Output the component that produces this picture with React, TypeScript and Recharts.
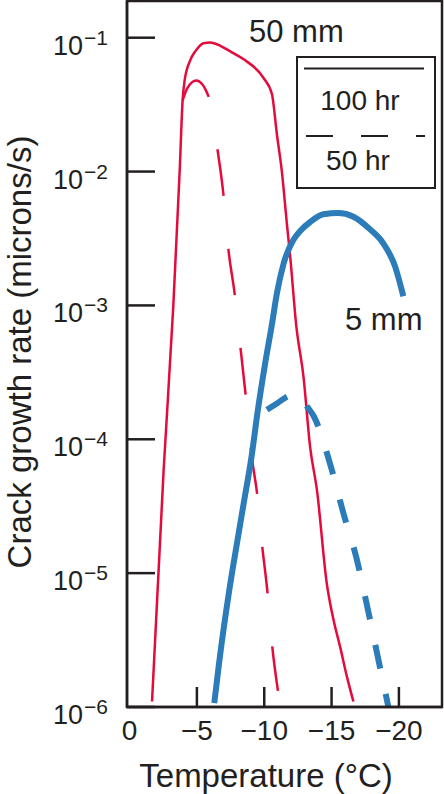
import { LineChart, Line, XAxis, YAxis, Legend } from "recharts";

const INK = "#231f20";
const RED = "#e40b3c";
const BLUE = "#2b7cb9";
const FONT = "'Liberation Sans', Arial, Helvetica, sans-serif";

// temperature (°C) / crack growth rate (microns/s)
// 50 mm, 100 hr (solid red)
const red100T = [-1.67, -2.53, -3.25, -3.72, -3.94, -4.09, -4.51, -4.88, -5.5, -5.99, -6.74, -7.48, -8.47, -9.95, -10.57, -10.94, -11.31, -11.68, -11.93, -12.37, -12.92, -13.41, -13.91, -14.65, -15.14, -15.64, -16.13, -16.62];
const red100V = [1.1e-6, 5.9e-5, 1.0e-3, 1.0e-2, 3.4e-2, 4.8e-2, 6.8e-2, 7.9e-2, 9.1e-2, 9.2e-2, 8.7e-2, 7.9e-2, 6.9e-2, 5.0e-2, 3.8e-2, 1.9e-2, 1.0e-2, 4.1e-3, 2.3e-3, 7.2e-4, 2.9e-4, 8.7e-5, 4.2e-5, 8.3e-6, 4.5e-6, 2.8e-6, 1.7e-6, 1.1e-6];
// 50 mm, 50 hr (dashed red)
const red50T = [-3.94, -4.27, -4.96, -5.87, -6.49, -6.98, -7.35, -7.8, -8.22, -8.61, -9.09, -9.46, -9.83, -10.24, -10.57, -11.02];
const red50V = [3.4e-2, 4.17e-2, 4.79e-2, 3.63e-2, 1.55e-2, 6.6e-3, 2.57e-3, 1.23e-3, 5.0e-4, 2.19e-4, 7.2e-5, 4.0e-5, 1.66e-5, 7.2e-6, 3.0e-6, 1.32e-6];
// 5 mm, 100 hr (solid blue)
const blue100T = [-6.29, -6.64, -7.4, -7.97, -8.47, -9.09, -9.5, -10.07, -10.57, -10.94, -11.43, -12.17, -12.67, -13.41, -14.4, -15.51, -16.62, -17.86, -18.85, -19.72, -20.33];
const blue100V = [1.07e-6, 2.1e-6, 7.4e-6, 1.66e-5, 3.3e-5, 7.8e-5, 1.58e-4, 3.7e-4, 7.2e-4, 1.23e-3, 2.04e-3, 3.1e-3, 3.6e-3, 4.2e-3, 4.8e-3, 4.9e-3, 4.6e-3, 3.7e-3, 2.9e-3, 1.95e-3, 1.17e-3];
// 5 mm, 50 hr (dashed blue)
const blue50T = [-10.2, -10.97, -11.73, -12.4, -13.21, -13.69, -14.9, -15.88, -16.88, -17.72, -18.46, -19.22];
const blue50V = [1.66e-4, 1.86e-4, 2.09e-4, 2.19e-4, 1.74e-4, 1.48e-4, 6.5e-5, 2.8e-5, 1.26e-5, 5.2e-6, 2.3e-6, 1.0e-6];

const xTicks = [0, -5, -10, -15, -20];
const yTicks = [1e-6, 1e-5, 1e-4, 1e-3, 1e-2, 1e-1];

const rows = (t: number[], v: number[]) => t.map((x, i) => ({ t: x, v: v[i] }));

function YTick(props: any) {
  const { x, y, payload } = props;
  const exp = Math.round(Math.log10(payload.value));
  return (
    <g>
      <line x1={x} x2={x + 28} y1={y} y2={y} stroke={INK} strokeWidth={2.5} />
      <text x={x - 74} y={y + 17} fill={INK} fontSize={27} fontFamily={FONT}>
        10
        <tspan dx={1} dy={-10} fontSize={21}>
          {"\u2212" + Math.abs(exp)}
        </tspan>
      </text>
    </g>
  );
}

function XTick(props: any) {
  const { x, y, payload } = props;
  const v = payload.value;
  return (
    <g>
      {v !== 0 && <line x1={x} x2={x} y1={y} y2={y - 20} stroke={INK} strokeWidth={2.5} />}
      <text x={x} y={y + 33} textAnchor="middle" fill={INK} fontSize={28} fontFamily={FONT}>
        {v === 0 ? "0" : "\u2212" + Math.abs(v)}
      </text>
    </g>
  );
}

function LegendBox() {
  return (
    <svg width={140} height={133} style={{ display: "block" }}>
      <rect x={1} y={1} width={138} height={131} fill="#fff" stroke={INK} strokeWidth={2} />
      <line x1={8} x2={128} y1={12.5} y2={12.5} stroke={INK} strokeWidth={2} />
      <text x={64} y={54} textAnchor="middle" fill={INK} fontSize={28} fontFamily={FONT}>
        100 hr
      </text>
      <line x1={10} x2={129} y1={80} y2={80} stroke={INK} strokeWidth={2} strokeDasharray="27 28" />
      <text x={62} y={114} textAnchor="middle" fill={INK} fontSize={28} fontFamily={FONT}>
        50 hr
      </text>
    </svg>
  );
}

export default function App() {
  return (
    <div style={{ position: "relative", width: 444, height: 794, fontFamily: FONT }}>
      <style>{`body{margin:0;background:#fff}`}</style>
      <LineChart width={444} height={794} margin={{ top: 1, right: 2, bottom: 0, left: 0 }}>
        <XAxis
          xAxisId="b"
          dataKey="t"
          type="number"
          domain={[-23.2, 0.19]}
          reversed
          allowDataOverflow
          ticks={xTicks}
          interval={0}
          height={87}
          tickSize={0}
          tickMargin={0}
          tickLine={false}
          axisLine={{ stroke: INK, strokeWidth: 2.5 }}
          tick={(p: any) => <XTick {...p} />}
          label={{
            content: () => (
              <text x={266} y={787} textAnchor="middle" fill={INK} fontSize={33} fontFamily={FONT}>
                Temperature (°C)
              </text>
            ),
          }}
        />
        <YAxis
          yAxisId="l"
          type="number"
          scale="log"
          domain={[1e-6, 0.188]}
          allowDataOverflow
          ticks={yTicks}
          interval={0}
          width={127}
          tickSize={0}
          tickMargin={0}
          tickLine={false}
          axisLine={{ stroke: INK, strokeWidth: 2.5 }}
          tick={(p: any) => <YTick {...p} />}
          label={{
            content: () => (
              <text
                x={31}
                y={352}
                transform="rotate(-90 31 352)"
                textAnchor="middle"
                fill={INK}
                fontSize={33}
                fontFamily={FONT}
              >
                Crack growth rate (microns/s)
              </text>
            ),
          }}
        />
        <Legend
          layout="horizontal"
          verticalAlign="middle"
          align="center"
          content={<LegendBox />}
          wrapperStyle={{ left: 296, top: 56, width: 140, height: 133 }}
        />
        <Line xAxisId="b" yAxisId="l" data={rows(red100T, red100V)} dataKey="v" type="monotone" stroke={RED} strokeWidth={2.5} dot={false} activeDot={false} isAnimationActive={false} />
        <Line xAxisId="b" yAxisId="l" data={rows(red50T, red50V)} dataKey="v" type="monotone" stroke={RED} strokeWidth={2.5} strokeDasharray="47 53" dot={false} activeDot={false} isAnimationActive={false} />
        <Line xAxisId="b" yAxisId="l" data={rows(blue100T, blue100V)} dataKey="v" type="monotone" stroke={BLUE} strokeWidth={6} dot={false} activeDot={false} isAnimationActive={false} />
        <Line xAxisId="b" yAxisId="l" data={rows(blue50T, blue50V)} dataKey="v" type="monotone" stroke={BLUE} strokeWidth={6} strokeDasharray="24 26" dot={false} activeDot={false} isAnimationActive={false} />
      </LineChart>
      <svg width={444} height={794} style={{ position: "absolute", left: 0, top: 0, pointerEvents: "none" }}>
        {/* plot frame: top and right edges */}
        <rect x={127} y={1} width={315} height={706} fill="none" stroke={INK} strokeWidth={2.5} />
        <text x={249} y={42} fill={INK} fontSize={31} fontFamily={FONT}>
          50 mm
        </text>
        <text x={345} y={330} fill={INK} fontSize={31} fontFamily={FONT}>
          5 mm
        </text>
      </svg>
    </div>
  );
}
